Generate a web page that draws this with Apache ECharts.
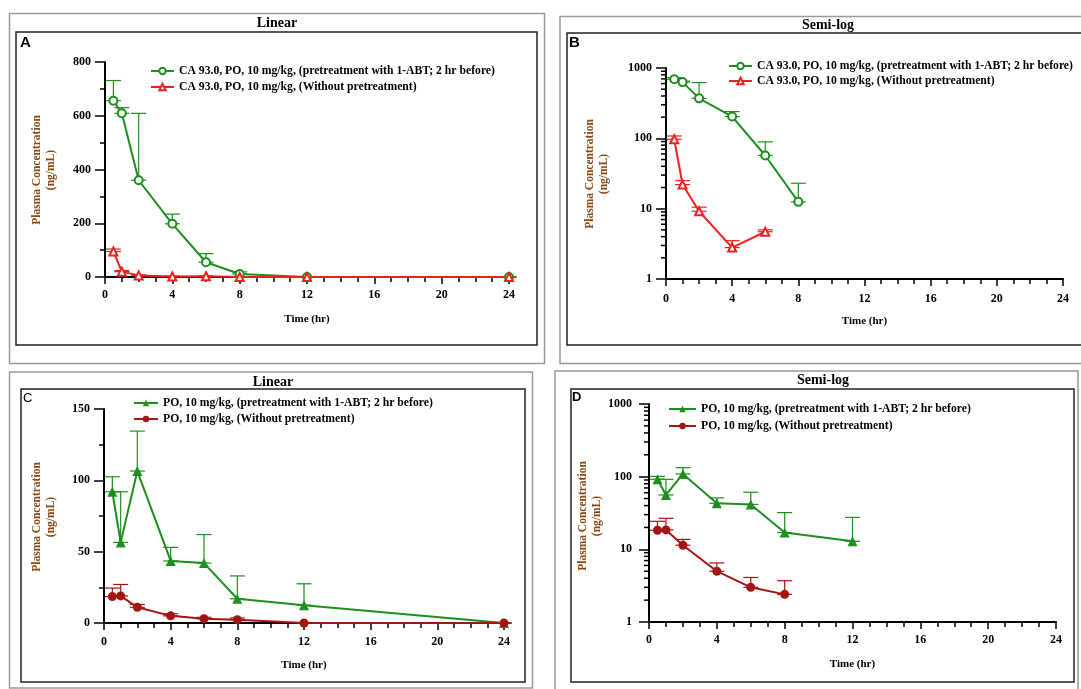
<!DOCTYPE html>
<html><head><meta charset="utf-8">
<script src="https://cdn.jsdelivr.net/npm/echarts@6/dist/echarts.min.js"></script>
<style>html,body{margin:0;padding:0;background:#fff}#c{width:1081px;height:689px}</style>
</head><body><div id="c"></div><script>
// ---------- DATA ----------
const xTicks = [0, 4, 8, 12, 16, 20, 24];
const logMinorTicks = [2,3,4,5,6,7,8,9,20,30,40,50,60,70,80,90,200,300,400,500,600,700,800,900];

const nameA1 = 'CA 93.0, PO, 10 mg/kg, (pretreatment with 1-ABT; 2 hr before)';
const nameA2 = 'CA 93.0, PO, 10 mg/kg, (Without pretreatment)';
const nameC1 = 'PO, 10 mg/kg, (pretreatment with 1-ABT; 2 hr before)';
const nameC2 = 'PO, 10 mg/kg, (Without pretreatment)';

// Panel A (linear)
const aTime = [0.5, 1, 2, 4, 6, 8, 12, 24];
const aGreenMean  = [656, 609, 360, 198, 55, 11, 0, 0];
const aGreenUpper = [731, 630, 609, 234, 87, 19, 0, 0];
const aRedMean  = [95, 20, 6, 2, 3, 0, 0, 0];
const aRedUpper = [104, 24, 8, 3, 4, 0, 0, 0];

// Panel B (semi-log)
const bGreenTime = [0.5, 1, 2, 4, 6, 8];
const bGreenMean  = [690, 630, 370, 204, 57, 12.5];
const bGreenUpper = [731, 650, 620, 240, 89, 23];
const bRedTime = [0.5, 1, 2, 4, 6];
const bRedMean  = [97, 22, 9.2, 2.8, 4.7];
const bRedUpper = [108, 25, 10.5, 3.5, 5.0];

// Panel C (linear)
const cTime = [0.5, 1, 2, 4, 6, 8, 12, 24];
const cGreenMean  = [92, 56.5, 106.5, 43.5, 42, 17, 12.5, 0];
const cGreenUpper = [102.5, 92, 134.5, 53, 62, 33, 27.5, 0];
const cRedMean  = [18.5, 19, 11, 5, 3, 2.3, 0, 0];
const cRedUpper = [24.5, 27, 13, 6.5, 4, 3.5, 0, 0];

// Panel D (semi-log)
const dGreenTime = [0.5, 1, 2, 4, 6, 8, 12];
const dGreenMean  = [92, 56, 109, 43, 41.5, 17, 12.9];
const dGreenUpper = [101, 92, 133, 51, 61, 32, 27.5];
const dRedTime = [0.5, 1, 2, 4, 6, 8];
const dRedMean  = [18.3, 18.5, 11.4, 5.0, 3.0, 2.4];
const dRedUpper = [24.3, 26.7, 13.7, 6.5, 4.1, 3.7];

// ---------- STYLE ----------
const GREEN = '#1e8f1e', RED = '#ee2020', DRED = '#a31515', BROWN = '#8b4a14';
const SERIF = '"Liberation Serif","Times New Roman",serif';
const SANS = '"Liberation Sans",Arial,sans-serif';

const zip = (t, v) => t.map((x, i) => [x, v[i]]);
const zip3 = (t, m, u) => t.map((x, i) => [x, m[i], u[i]]);

const grids = [
  {left: 105, top: 62, width: 404, height: 215},
  {left: 666, top: 68, width: 397, height: 211},
  {left: 104, top: 409, width: 400, height: 214},
  {left: 649, top: 404, width: 407, height: 218}
];

const labelStyle = {color: '#000', fontFamily: SERIF, fontWeight: 'bold', fontSize: 12};

function xAx(gi, margin) {
  return {
    type: 'value', gridIndex: gi, min: 0, max: 24, interval: 4,
    axisLine: {show: true, onZero: false, lineStyle: {color: '#000', width: 2}},
    axisTick: {show: true, length: 7, lineStyle: {color: '#000', width: 1.5}},
    minorTick: {show: true, splitNumber: 4, length: 5, lineStyle: {color: '#000', width: 1.5}},
    splitLine: {show: false}, minorSplitLine: {show: false},
    axisLabel: Object.assign({margin: margin}, labelStyle),
    name: 'Time (hr)', nameLocation: 'middle', nameGap: 37,
    nameTextStyle: {color: '#000', fontFamily: SERIF, fontWeight: 'bold', fontSize: 11}
  };
}
function yLin(gi, max, interval, margin) {
  return {
    type: 'value', gridIndex: gi, min: 0, max: max, interval: interval,
    axisLine: {show: true, lineStyle: {color: '#000', width: 2}},
    axisTick: {show: true, length: 10, lineStyle: {color: '#000', width: 1.5}},
    minorTick: {show: true, splitNumber: 2, length: 5, lineStyle: {color: '#000', width: 1.5}},
    splitLine: {show: false}, minorSplitLine: {show: false},
    axisLabel: Object.assign({margin: margin}, labelStyle)
  };
}
function yLog(gi, margin) {
  return {
    type: 'log', logBase: 10, gridIndex: gi, min: 1, max: 1000,
    axisLine: {show: true, lineStyle: {color: '#000', width: 2}},
    axisTick: {show: true, length: 10, lineStyle: {color: '#000', width: 1.5}},
    splitLine: {show: false},
    axisLabel: Object.assign({margin: margin, formatter: v => String(Math.round(v))}, labelStyle)
  };
}

function errRender(color) {
  return function (params, api) {
    const x = api.value(0), m = api.value(1), u = api.value(2);
    const p0 = api.coord([x, m]), p1 = api.coord([x, u]);
    const hw = 7.5, st = {stroke: color, lineWidth: 1.2};
    return {type: 'group', children: [
      {type: 'line', shape: {x1: p0[0], y1: p0[1], x2: p1[0], y2: p1[1]}, style: st},
      {type: 'line', shape: {x1: p1[0] - hw, y1: p1[1], x2: p1[0] + hw, y2: p1[1]}, style: st},
      {type: 'line', shape: {x1: p0[0] - hw, y1: p0[1], x2: p0[0] + hw, y2: p0[1]}, style: st}
    ]};
  };
}
function errSeries(gi, t, m, u, color) {
  return {type: 'custom', xAxisIndex: gi, yAxisIndex: gi, renderItem: errRender(color),
    data: zip3(t, m, u), encode: {x: 0, y: 1}, clip: false, silent: true, z: 2};
}
function lineSeries(gi, name, t, m, color, symbol, size, filled) {
  return {type: 'line', name: name, xAxisIndex: gi, yAxisIndex: gi, data: zip(t, m),
    symbol: symbol, symbolSize: size, showAllSymbol: true, clip: false,
    itemStyle: {color: color, borderColor: color, borderWidth: filled ? 0 : 1.3},
    lineStyle: {color: color, width: 2}, z: 3, silent: true};
}
function logMinorSeries(gi) {
  return {type: 'custom', xAxisIndex: gi, yAxisIndex: gi, silent: true, clip: false, z: 4,
    data: logMinorTicks.map(v => [0, v]), encode: {x: 0, y: 1},
    renderItem: function (params, api) {
      const p = api.coord([api.value(0), api.value(1)]);
      return {type: 'line', shape: {x1: p[0] - 5, y1: p[1], x2: p[0], y2: p[1]},
        style: {stroke: '#000', lineWidth: 1.5}};
    }};
}
function legend(names, left, top, w, gap) {
  return {data: names, orient: 'vertical', left: left, top: top, itemWidth: w, itemHeight: 8,
    itemGap: gap, selectedMode: false, padding: 0,
    textStyle: {color: '#000', fontFamily: SERIF, fontWeight: 'bold', fontSize: 11.7, lineHeight: 12}};
}

// ---------- GRAPHIC (frames, titles, panel letters, y titles) ----------
function rect(x, y, w, h, c) {
  return {type: 'rect', shape: {x: x, y: y, width: w, height: h},
    style: {fill: 'none', stroke: c, lineWidth: 1.5}, silent: true};
}
function txt(x, y, s, font, color, rot) {
  return {type: 'text', x: x, y: y, rotation: rot || 0, silent: true,
    style: {text: s, font: font, fill: color, align: 'center', verticalAlign: 'middle', lineHeight: 14}};
}
const titleFont = 'bold 14px ' + SERIF;
const yNameFont = 'bold 11.5px ' + SERIF;
const yName = 'Plasma Concentration\n(ng/mL)';
const graphic = [
  rect(9.5, 13.5, 535, 350, '#9a9a9a'), rect(16, 32, 521, 313, '#222'),
  rect(560, 16.5, 540, 347, '#9a9a9a'), rect(567, 33, 540, 312, '#222'),
  rect(9.5, 372, 523, 316, '#9a9a9a'), rect(21, 389, 504, 293, '#222'),
  rect(555, 371, 523, 340, '#9a9a9a'), rect(571, 389, 503, 293, '#222'),
  txt(277, 23, 'Linear', titleFont, '#000'),
  txt(828, 25, 'Semi-log', titleFont, '#000'),
  txt(273, 382, 'Linear', titleFont, '#000'),
  txt(823, 380, 'Semi-log', titleFont, '#000'),
  {type: 'text', x: 20, y: 43, silent: true, style: {text: 'A', font: 'bold 15px ' + SANS, fill: '#000', align: 'left', verticalAlign: 'middle'}},
  {type: 'text', x: 569, y: 43, silent: true, style: {text: 'B', font: 'bold 15px ' + SANS, fill: '#000', align: 'left', verticalAlign: 'middle'}},
  {type: 'text', x: 23, y: 398, silent: true, style: {text: 'C', font: '13px ' + SANS, fill: '#000', align: 'left', verticalAlign: 'middle'}},
  {type: 'text', x: 572, y: 397, silent: true, style: {text: 'D', font: 'bold 13px ' + SANS, fill: '#000', align: 'left', verticalAlign: 'middle'}},
  txt(44, 170, yName, yNameFont, BROWN, Math.PI / 2),
  txt(597, 174, yName, yNameFont, BROWN, Math.PI / 2),
  txt(44, 517, yName, yNameFont, BROWN, Math.PI / 2),
  txt(590, 516, yName, yNameFont, BROWN, Math.PI / 2)
];

const option = {
  animation: false,
  backgroundColor: '#fff',
  grid: grids,
  xAxis: [xAx(0, 12), xAx(1, 14), xAx(2, 13), xAx(3, 12)],
  yAxis: [yLin(0, 800, 200, 14), yLog(1, 14), yLin(2, 150, 50, 14), yLog(3, 17)],
  legend: [
    legend([nameA1, nameA2], 150, 65, 23, 4),
    legend([nameA1, nameA2], 728, 60, 23, 3),
    legend([nameC1, nameC2], 133, 397, 24, 4),
    legend([nameC1, nameC2], 668, 403, 27, 5)
  ],
  graphic: graphic,
  series: [
    errSeries(0, aTime, aGreenMean, aGreenUpper, GREEN),
    errSeries(0, aTime, aRedMean, aRedUpper, RED),
    lineSeries(0, nameA1, aTime, aGreenMean, GREEN, 'emptyCircle', 8, false),
    lineSeries(0, nameA2, aTime, aRedMean, RED, 'emptyTriangle', 8, false),

    errSeries(1, bGreenTime, bGreenMean, bGreenUpper, GREEN),
    errSeries(1, bRedTime, bRedMean, bRedUpper, RED),
    lineSeries(1, nameA1, bGreenTime, bGreenMean, GREEN, 'emptyCircle', 8, false),
    lineSeries(1, nameA2, bRedTime, bRedMean, RED, 'emptyTriangle', 8, false),
    logMinorSeries(1),

    errSeries(2, cTime, cGreenMean, cGreenUpper, GREEN),
    errSeries(2, cTime, cRedMean, cRedUpper, DRED),
    lineSeries(2, nameC1, cTime, cGreenMean, GREEN, 'triangle', 10, true),
    lineSeries(2, nameC2, cTime, cRedMean, DRED, 'circle', 9, true),

    errSeries(3, dGreenTime, dGreenMean, dGreenUpper, GREEN),
    errSeries(3, dRedTime, dRedMean, dRedUpper, DRED),
    lineSeries(3, nameC1, dGreenTime, dGreenMean, GREEN, 'triangle', 10, true),
    lineSeries(3, nameC2, dRedTime, dRedMean, DRED, 'circle', 9, true),
    logMinorSeries(3)
  ]
};
const chart = echarts.init(document.getElementById('c'));
chart.setOption(option);
</script></body></html>
